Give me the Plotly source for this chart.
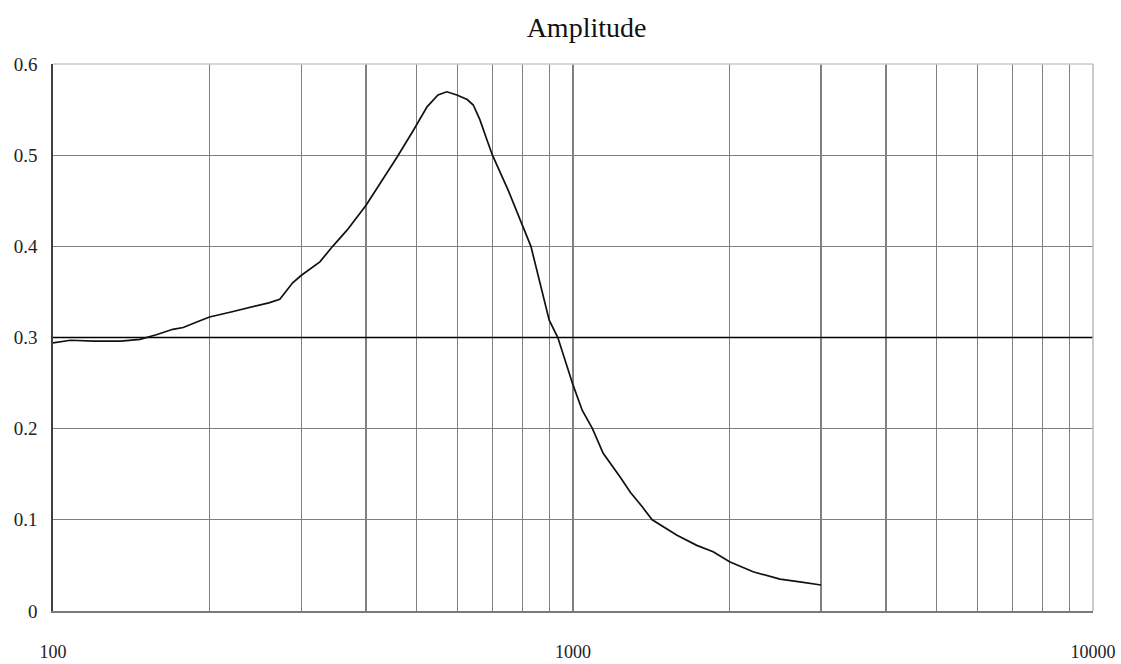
import plotly.graph_objects as go

# Frequency (Hz) and amplitude
freq = [100, 108, 120, 135, 147, 158, 170, 178, 189, 200, 220, 239, 260, 273, 280,
        289, 300, 326, 345, 368, 400, 431, 459, 493, 524, 550, 572, 598, 626, 643,
        662, 683, 700, 750, 800, 830, 900, 935, 1000, 1042, 1090, 1143, 1232, 1290,
        1360, 1420, 1585, 1730, 1860, 2000, 2220, 2500, 2730, 3000]
amplitude = [0.294, 0.297, 0.296, 0.296, 0.298, 0.303, 0.309, 0.311, 0.317, 0.3225,
             0.328, 0.333, 0.338, 0.342, 0.350, 0.360, 0.368, 0.383, 0.400, 0.418,
             0.445, 0.473, 0.498, 0.527, 0.553, 0.566, 0.5695, 0.566, 0.561, 0.555,
             0.539, 0.517, 0.500, 0.462, 0.423, 0.400, 0.319, 0.300, 0.248, 0.220,
             0.200, 0.173, 0.147, 0.130, 0.114, 0.100, 0.083, 0.072, 0.065, 0.054,
             0.043, 0.035, 0.032, 0.0285]

# Constant reference series
ref_freq = [100, 10000]
ref_amp = [0.3, 0.3]

title_text = "Amplitude"
x_grid_vals = [m * d for d in (100, 1000) for m in range(1, 10)] + [10000]
x_tick_text = [str(v) if v in (100, 1000, 10000) else "" for v in x_grid_vals]
y_tick_vals = [0, 0.1, 0.2, 0.3, 0.4, 0.5, 0.6]
y_tick_text = ["0", "0.1", "0.2", "0.3", "0.4", "0.5", "0.6"]

FONT = "Liberation Serif, Times New Roman, serif"
W, H = 1121, 664

fig = go.Figure()
fig.add_trace(go.Scatter(x=ref_freq, y=ref_amp, mode="lines",
                         line=dict(color="#000000", width=1.7), hoverinfo="skip"))
fig.add_trace(go.Scatter(x=freq, y=amplitude, mode="lines",
                         line=dict(color="#111111", width=1.7), hoverinfo="skip"))

fig.update_layout(
    width=W, height=H,
    margin=dict(l=53, r=28, t=64, b=53),
    paper_bgcolor="white", plot_bgcolor="white",
    showlegend=False,
    title=dict(text=title_text, xref="paper", x=0.513, xanchor="center",
               y=1 - 27 / H, yanchor="middle",
               font=dict(family=FONT, size=28, color="#111111")),
    font=dict(family=FONT, size=19, color="#222222"),
    xaxis=dict(type="log", range=[2, 4], tickvals=x_grid_vals, ticktext=x_tick_text,
               showgrid=True, gridcolor="#808080", gridwidth=1.2,
               showline=True, linecolor="#7a7a7a", linewidth=1.5,
               tickfont=dict(family=FONT, size=18, color="#222222"),
               ticks="", ticklabelstandoff=24, zeroline=False, automargin=False),
    yaxis=dict(range=[0, 0.6], tickvals=y_tick_vals, ticktext=y_tick_text,
               showgrid=True, gridcolor="#808080", gridwidth=1.2,
               showline=True, linecolor="#404040", linewidth=1.8,
               ticks="", ticklabelstandoff=10, zeroline=False, automargin=False),
    shapes=[
        dict(type="line", xref="paper", yref="paper", x0=0, x1=1, y0=1, y1=1,
             line=dict(color="#c8c8c8", width=1.5), layer="above"),
        dict(type="line", xref="paper", yref="paper", x0=1, x1=1, y0=0, y1=1,
             line=dict(color="#b8b8b8", width=1.5), layer="above"),
    ],
)

fig.write_html("out.html", config={"displayModeBar": False, "staticPlot": True},
               post_script="document.body.style.margin='0';document.body.style.overflow='hidden';")
